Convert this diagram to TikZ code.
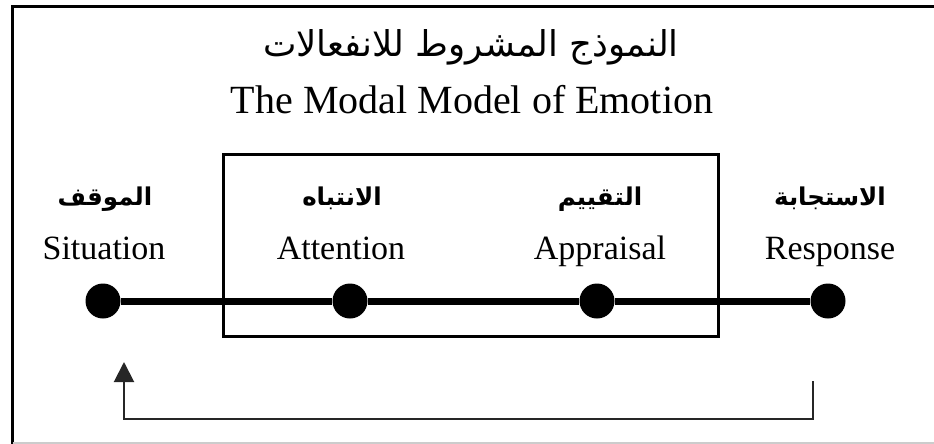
\documentclass[tikz,border=0pt]{standalone}
\usepackage{fontspec}
\setmainfont{Liberation Serif}
\newfontfamily\arabicfont[Script=Arabic]{DejaVu Sans}
\TeXXeTstate=1
\usetikzlibrary{arrows.meta, positioning}

\begin{document}
\begin{tikzpicture}[
        x=1pt, y=-1pt,
        dot/.style={circle, fill=black, inner sep=0pt, minimum size=35pt},
        entitle/.style={anchor=base, inner sep=0pt, font=\fontsize{40}{44}\selectfont},
        artitle/.style={anchor=base, inner sep=0pt, font=\arabicfont\fontsize{35.5}{40}\selectfont},
        enlbl/.style={anchor=base, inner sep=0pt, font=\fontsize{34}{38}\selectfont},
        arlbl/.style={anchor=base, inner sep=0pt, font=\arabicfont\bfseries\fontsize{24.5}{28}\selectfont},
        arrow/.style={line width=2pt, black!85, -{Triangle[width=20pt,length=20pt]}}
    ]
        \useasboundingbox (0,0) rectangle (934,444);
        % frame of the screenshot
        \draw[line width=3pt] (12.5,444) -- (12.5,6.5) -- (934,6.5);
        \draw[line width=2pt, black!20] (12.5,443) -- (934,443);

        % title
        \node[artitle] (artl) at (471,57) {\beginR النموذج المشروط للانفعالات\endR};
        \node[entitle] (entl) at (472,113) {The Modal Model of Emotion};

        % stages
        \node[dot] (sit) at (103,301) {};
        \node[dot] (att) at (350,301) {};
        \node[dot] (app) at (597,301) {};
        \node[dot] (resp) at (828,301) {};
        \draw[line width=7pt] (sit) -- (att) -- (app) -- (resp);

        \node[enlbl] (sitl) at (104,259) {Situation};
        \node[enlbl] (attl) at (341,259) {Attention};
        \node[enlbl] (appl) at (600,259) {Appraisal};
        \node[enlbl] (respl) at (830,259) {Response};
        \node[arlbl] (sitar) at (105,205) {\beginR الموقف\endR};
        \node[arlbl] (attar) at (342,205) {\beginR الانتباه\endR};
        \node[arlbl] (appar) at (600,205) {\beginR التقييم\endR};
        \node[arlbl] (respar) at (830,205) {\beginR الاستجابة\endR};

        % box round attention and appraisal
        \draw[line width=3pt] (223,154) rectangle (718,336);

        % feedback loop
        \coordinate (fbout) at (813,381);
        \coordinate (fbin) at (124,362);
        \draw[arrow] (fbout) |- (124,419) -- (fbin);
\end{tikzpicture}
\end{document}
